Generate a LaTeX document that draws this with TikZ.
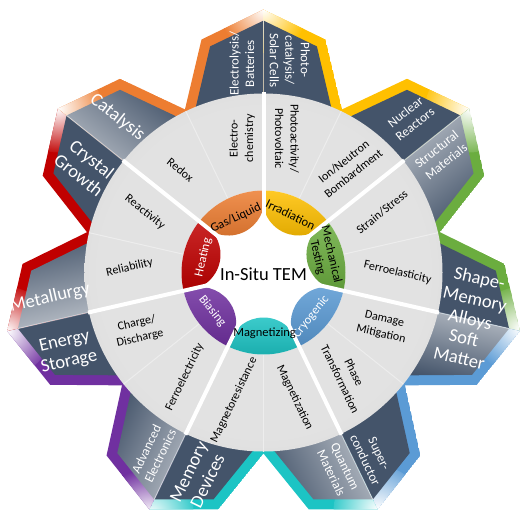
\documentclass[tikz,border=0pt]{standalone}
\usepackage{fontspec}
\setmainfont{Carlito}
\usetikzlibrary{calc}
\definecolor{slate}{HTML}{44546A}
\definecolor{cOrange}{HTML}{ED7D31}
\definecolor{cYellow}{HTML}{FFC000}
\definecolor{cGreen}{HTML}{6BAD3F}
\definecolor{cBlue}{HTML}{5B9BD5}
\definecolor{cCyan}{HTML}{1CC4C4}
\definecolor{cPurple}{HTML}{7030A0}
\definecolor{cRed}{HTML}{C00000}
\definecolor{ringIn}{HTML}{E2E2E2}
\definecolor{ringOut}{HTML}{C6C6C6}
\pgfdeclareradialshading{ringshade}{\pgfpoint{0bp}{0bp}}{color(0bp)=(ringIn); color(23bp)=(ringIn); color(50bp)=(ringOut)}
\tikzset{
  segtext/.style={align=center,inner sep=0pt,font=\fontsize{12}{15.5}\selectfont},
  hexsmall/.style={align=center,inner sep=0pt,text=white,font=\fontsize{13}{15.5}\selectfont},
  hexbig/.style={align=center,inner sep=0pt,text=white,font=\fontsize{18.5}{21}\selectfont},
  petaltext/.style={align=center,inner sep=0pt,font=\fontsize{12.5}{14}\selectfont},
}
\begin{document}
\begin{tikzpicture}[x=1pt,y=1pt]
  \fill[white] (-263.5,-252.5) rectangle (265.5,272.5);
  \useasboundingbox (-263.5,-252.5) rectangle (265.5,272.5);
  \foreach \b/\cL/\cS/\g in {90/cOrange/cYellow/0, 38.571/cYellow/cGreen/1, -12.857/cGreen/cBlue/1, -64.286/cBlue/cCyan/1, -115.714/cCyan/cPurple/1, -167.143/cPurple/cRed/1, -218.571/cRed/cOrange/1}{
    \begin{scope}[rotate=\b]
      \begin{scope}
        \clip (140,0) -- (263,0) -- (233,62) -- (140,84) -- cycle;
        \fill[\cL] (140,0) -- (263,0) -- (233,62) -- (140,84) -- cycle;
        \shade[inner color=white, outer color=\cL] (263,0) circle (44);
        \fill[slate] (140,0) -- (251.9,0) -- (226.1,53.4) -- (140,73.7) -- cycle;
      \end{scope}
      \begin{scope}
        \clip (140,0) -- (263,0) -- (233,-62) -- (140,-84) -- cycle;
        \fill[\cS] (140,0) -- (263,0) -- (233,-62) -- (140,-84) -- cycle;
        \shade[inner color=white, outer color=\cS] (263,0) circle (44);
        \ifnum\g=1
          \shade[top color=slate!35!white, bottom color=slate, shading angle=\b] (140,0) -- (251.9,0) -- (226.1,-53.4) -- (140,-73.7) -- cycle;
        \else
          \fill[slate] (140,0) -- (251.9,0) -- (226.1,-53.4) -- (140,-73.7) -- cycle;
        \fi
      \end{scope}
      \draw[white, opacity=.5, line width=1] (178,0) -- (252,0);
    \end{scope}
  }
  \shade[shading=ringshade, even odd rule] (0,0) circle (179) (0,0) circle (82);
  \foreach \m in {64.286,12.857,-38.571,-90,-141.429,-192.857,-244.286}
    \draw[white!93!black, line width=1] (\m:82) -- (\m:179);
  \foreach \m/\c in {64.286/cYellow, 12.857/cGreen, -38.571/cBlue, -90/cCyan, -141.429/cPurple, -192.857/cRed, -244.286/cOrange}
    \shade[top color=\c!85!white, bottom color=\c!88!black]
      ({\m-25.714}:82) arc[start angle=\m-25.714, end angle=\m+25.714, radius=82]
      -- ($(\m:81)+({\m+100}:36)$) arc[start angle=\m+100, end angle=\m+260, radius=36] -- cycle;
  \foreach \b in {90,38.571,-12.857,-64.286,-115.714,-167.143,-218.571}
    \draw[white, line width=4] (\b:40) -- (\b:180);

  \node[font=\fontsize{18.5}{20}\selectfont] (tem) at (0,-2) {In-Situ TEM};
  \node[petaltext, rotate=-25.714] (irr) at (65:64) {Irradiation};
  \node[petaltext, rotate=-77.143] (mech) at (15:63) {Mechanical\\Testing};
  \node[petaltext, rotate=51.429, text=white] (cryo) at (-43:65) {Cryogenic};
  \node[petaltext] (magn) at (-89:61) {Magnetizing};
  \node[petaltext, rotate=-51.429, text=white] (bias) at (-143:64) {Biasing};
  \node[petaltext, rotate=77.143, text=white] (heat) at (166:62) {Heating};
  \node[petaltext, rotate=25.714] (gas) at (117:61) {Gas/Liquid};

  \node[segtext, rotate=90] (electro) at (99:136) {Electro-\\chemistry};
  \node[segtext, rotate=-90] (photoact) at (80:136) {Photoactivity/\\Photovoltaic};
  \node[segtext, rotate=38.571] (ion) at (51:135) {Ion/Neutron\\Bombardment};
  \node[segtext, rotate=38.571] (strain) at (27:133) {Strain/Stress};
  \node[segtext, rotate=-12.857] (ferroel) at (0:134) {Ferroelasticity};
  \node[segtext, rotate=-12.857] (damage) at (-24.5:131) {Damage\\Mitigation};
  \node[segtext, rotate=-64.286] (phase) at (-51:133) {Phase\\Transformation};
  \node[segtext, rotate=-64.286] (magzn) at (-76:129) {Magnetization};
  \node[segtext, rotate=64.286] (magres) at (-103:131) {Magnetoresistance};
  \node[segtext, rotate=64.286] (ferroec) at (-127:131) {Ferroelectricity};
  \node[segtext, rotate=12.857] (charge) at (205:138) {Charge/\\Discharge};
  \node[segtext, rotate=12.857] (reliab) at (178:134) {Reliability};
  \node[segtext, rotate=-38.571] (react) at (153:133) {Reactivity};
  \node[segtext, rotate=-38.571] (redox) at (129:132) {Redox};

  \node[hexsmall, rotate=90] (batt) at (95.9:210) {Electrolysis/\\Batteries};
  \node[hexsmall, rotate=-90] (solar) at (82.9:214) {Photo-\\catalysis/\\Solar Cells};
  \node[hexsmall, rotate=38.571] (nuclear) at (46.5:213) {Nuclear\\Reactors};
  \node[hexsmall, rotate=38.571] (struct) at (33.4:213) {Structural\\Materials};
  \node[hexbig, rotate=-12.857] (shape) at (-7.4:213) {Shape-\\Memory\\Alloys};
  \node[hexbig, rotate=-12.857] (soft) at (-20.8:212) {Soft\\Matter};
  \node[hexsmall, rotate=-64.286] (super) at (-59.5:214) {Super-\\conductor};
  \node[hexsmall, rotate=-64.286] (quantum) at (-69.3:211) {Quantum\\Materials};
  \node[hexbig, rotate=64.286] (memory) at (252.2:214) {Memory\\Devices};
  \node[hexsmall, rotate=64.286] (advanced) at (238.5:211) {Advanced\\Electronics};
  \node[hexbig, rotate=12.857] (energy) at (202:212) {Energy\\Storage};
  \node[hexbig, rotate=12.857] (metal) at (186.8:215) {Metallurgy};
  \node[hexbig, rotate=-38.571] (crystal) at (149.4:207) {Crystal\\Growth};
  \node[hexbig, rotate=-38.571] (catal) at (133.3:213) {Catalysis};
\end{tikzpicture}
\end{document}
